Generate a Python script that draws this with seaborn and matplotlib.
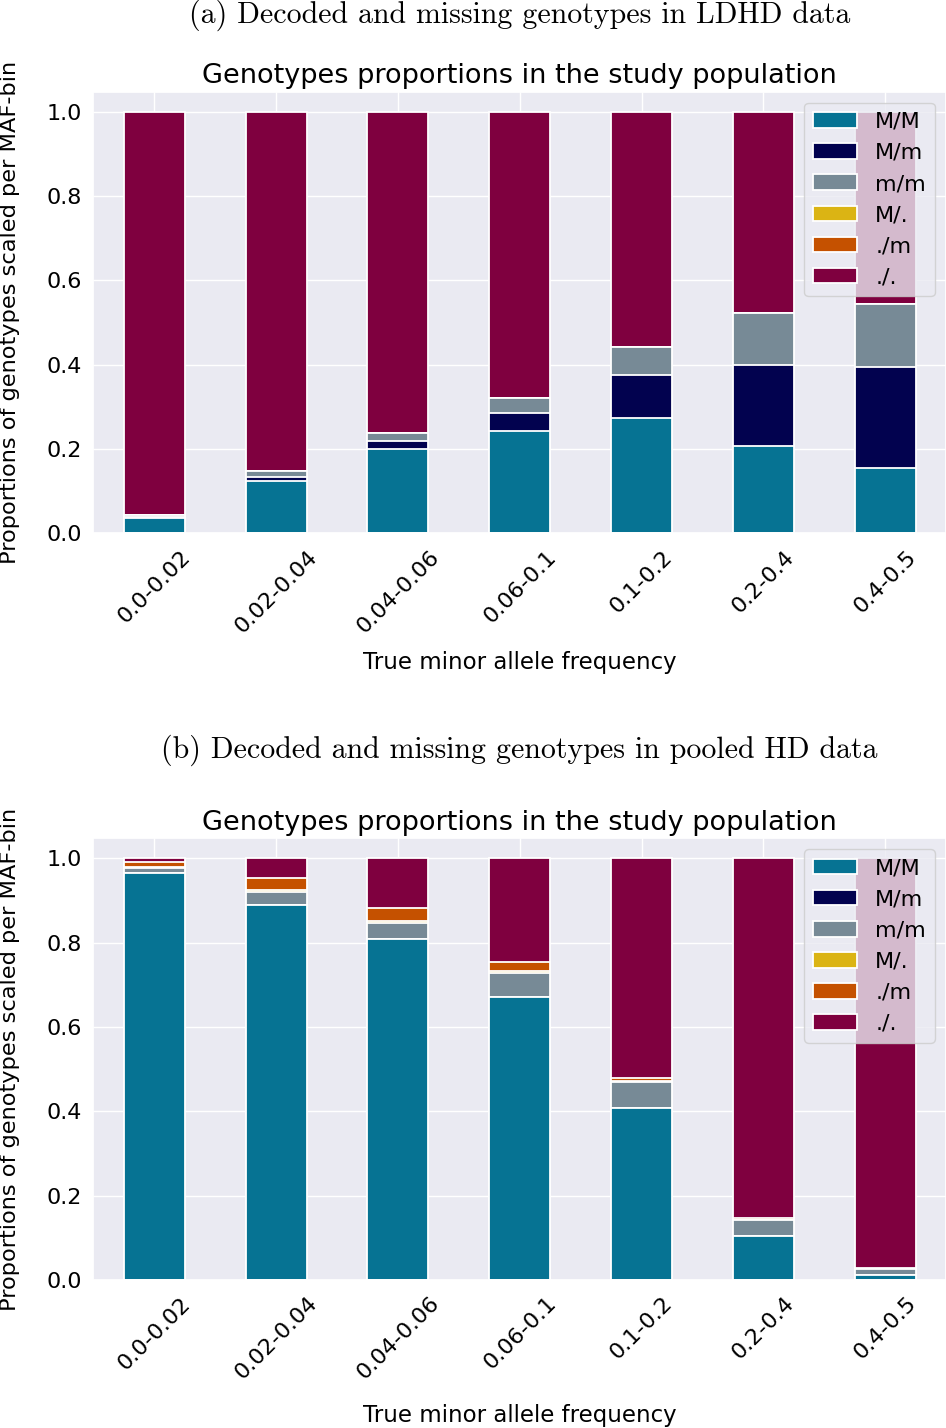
import matplotlib
matplotlib.use("Agg")
import matplotlib.pyplot as plt
import seaborn as sns
import pandas as pd
import numpy as np

# ---------------- data ----------------
categories = ["0.0-0.02", "0.02-0.04", "0.04-0.06", "0.06-0.1", "0.1-0.2", "0.2-0.4", "0.4-0.5"]
genotypes = ["M/M", "M/m", "m/m", "M/.", "./m", "./."]

# (a) LDHD data
ldhd_MM = [0.037, 0.125, 0.199, 0.243, 0.273, 0.208, 0.154]
ldhd_Mm = [0.002, 0.009, 0.020, 0.043, 0.103, 0.191, 0.241]
ldhd_mm = [0.004, 0.015, 0.018, 0.036, 0.066, 0.123, 0.149]
ldhd_Mmiss = [0.0, 0.0, 0.0, 0.0, 0.0, 0.0, 0.0]
ldhd_missm = [0.0, 0.0, 0.0, 0.0, 0.0, 0.0, 0.0]
ldhd_miss = [0.957, 0.851, 0.763, 0.678, 0.558, 0.478, 0.456]

# (b) pooled HD data
hd_MM = [0.966, 0.888, 0.808, 0.670, 0.408, 0.105, 0.012]
hd_Mm = [0.0, 0.0, 0.0, 0.0, 0.0, 0.0, 0.0]
hd_mm = [0.011, 0.033, 0.039, 0.059, 0.061, 0.038, 0.014]
hd_Mmiss = [0.002, 0.004, 0.004, 0.003, 0.002, 0.0, 0.0]
hd_missm = [0.012, 0.027, 0.031, 0.022, 0.008, 0.003, 0.003]
hd_miss = [0.009, 0.048, 0.118, 0.246, 0.521, 0.854, 0.971]

colors = ["#067393", "#02024f", "#778a96", "#dbb414", "#c55100", "#7f003f"]

title = "Genotypes proportions in the study population"
xlabel = "True minor allele frequency"
ylabel = "Proportions of genotypes scaled per MAF-bin"
captions = ["(a) Decoded and missing genotypes in LDHD data",
            "(b) Decoded and missing genotypes in pooled HD data"]

# ---------------- plot ----------------
sns.set_theme(style="darkgrid")
plt.rcParams["font.family"] = ["DejaVu Sans"]
for key in ["text.color", "axes.labelcolor", "xtick.color", "ytick.color"]:
    plt.rcParams[key] = "black"

fig = plt.figure(figsize=(9.46, 14.28), dpi=100)
ax_a = fig.add_axes([0.0988, 0.6265, 0.9012, 0.3092])
ax_b = fig.add_axes([0.0988, 0.1036, 0.9012, 0.3093])


def draw(ax, layers, xlabel_y):
    stack = np.cumsum(np.array(layers), axis=0)
    for i in reversed(range(len(genotypes))):
        df = pd.DataFrame({"bin": categories, "value": stack[i]})
        sns.barplot(data=df, x="bin", y="value", color=colors[i], saturation=1,
                    width=0.5, edgecolor="white", linewidth=1.3, ax=ax,
                    label=genotypes[i])
    ax.set_ylim(0, 1.047)
    ax.set_xlim(-0.5, len(categories) - 0.5)
    ax.set_yticks([0.0, 0.2, 0.4, 0.6, 0.8, 1.0])
    ax.set_yticklabels(["0.0", "0.2", "0.4", "0.6", "0.8", "1.0"])
    ax.xaxis.grid(True)
    ax.yaxis.grid(True)
    ax.tick_params(axis="both", labelsize=16)
    ax.tick_params(axis="y", pad=2)
    plt.setp(ax.get_xticklabels(), rotation=45, ha="center")
    ax.set_title(title, fontsize=19.5)
    ax.set_xlabel(xlabel, fontsize=16.5)
    ax.set_ylabel(ylabel, fontsize=16.2)
    ax.xaxis.set_label_coords(0.5, xlabel_y)
    ax.yaxis.set_label_coords(-0.086, 0.5)
    handles, labels = ax.get_legend_handles_labels()
    order = [labels.index(g) for g in genotypes]
    ax.legend([handles[k] for k in order], [labels[k] for k in order],
              loc="upper right", fontsize=16)


draw(ax_a, [ldhd_MM, ldhd_Mm, ldhd_mm, ldhd_Mmiss, ldhd_missm, ldhd_miss], -0.2665)
draw(ax_b, [hd_MM, hd_Mm, hd_mm, hd_Mmiss, hd_missm, hd_miss], -0.2807)

fig.text(0.549, 1 - 15 / 1428, captions[0], family="cmr10",
         fontsize=21.5, ha="center", va="center")
fig.text(0.549, 1 - 750 / 1428, captions[1], family="cmr10",
         fontsize=21.5, ha="center", va="center")

fig.savefig("out.png", dpi=100)
